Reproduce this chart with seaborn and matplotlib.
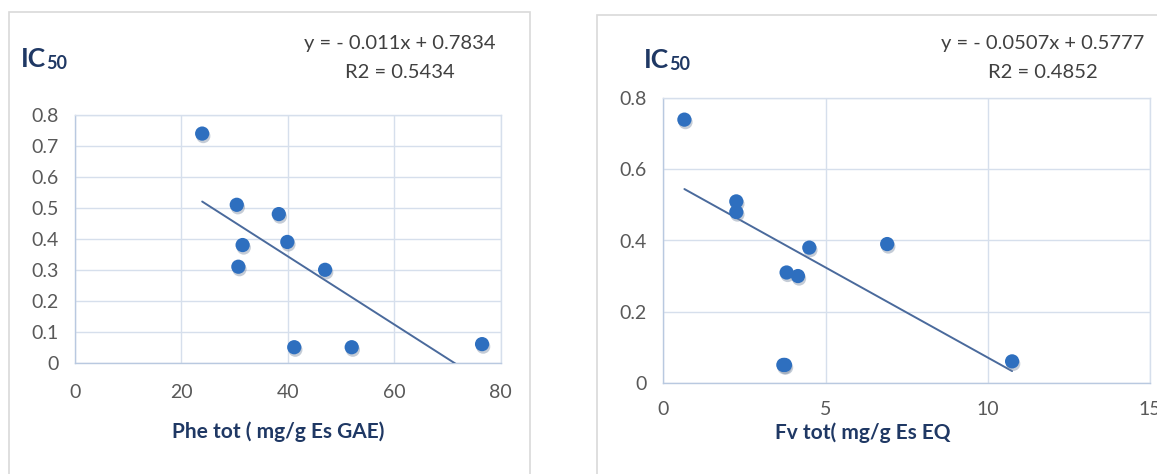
import numpy as np
import pandas as pd
import seaborn as sns
import matplotlib
matplotlib.use("Agg")
import matplotlib.pyplot as plt
import matplotlib.patheffects as pe
from matplotlib.patches import Rectangle

# ---------------- data ----------------
ic50 = [0.74, 0.51, 0.48, 0.38, 0.39, 0.31, 0.30, 0.05, 0.05, 0.06]
phe_tot = [23.9, 30.4, 38.3, 31.5, 39.9, 30.7, 47.0, 41.2, 52.0, 76.5]
fv_tot = [0.65, 2.25, 2.25, 4.5, 6.9, 3.8, 4.15, 3.7, 3.75, 10.75]

phe_slope, phe_intercept, phe_r2 = -0.011, 0.7834, 0.5434
fv_slope, fv_intercept, fv_r2 = -0.0507, 0.5777, 0.4852

phe_xticks = [0, 20, 40, 60, 80]
phe_yticks = [0, 0.1, 0.2, 0.3, 0.4, 0.5, 0.6, 0.7, 0.8]
fv_xticks = [0, 5, 10, 15]
fv_yticks = [0, 0.2, 0.4, 0.6, 0.8]

phe_xlabel = "Phe tot ( mg/g Es GAE)"
fv_xlabel = "Fv tot( mg/g Es EQ"

# ---------------- style ----------------
sns.set_theme(style="white")
plt.rcParams["font.family"] = ["Lato", "DejaVu Sans"]

W, H = 1157, 474
fig = plt.figure(figsize=(W / 100, H / 100), dpi=100)
fig.patch.set_facecolor("white")


def fx(px):
    return px / W


def fy(py):
    return 1 - py / H


NAVY = "#1f3864"
TICK = "#595959"
EQ = "#404040"
PT = "#2e6fbf"
LINE = "#4a6a9c"
GRID = "#d6dfec"
SPINE = "#b9c9e0"

# panel borders
for x0, y0, x1, y1 in [(9, 12, 530, 500), (597, 15, 1200, 500)]:
    fig.patches.append(Rectangle((fx(x0), fy(y1)), fx(x1) - fx(x0), fy(y0) - fy(y1),
                                 transform=fig.transFigure, fill=False,
                                 ec="#d9d9d9", lw=1.2))

ax1 = fig.add_axes([fx(75), fy(362.7), (500.7 - 75) / W, (362.7 - 115) / H])
ax2 = fig.add_axes([fx(663.3), fy(382.7), (1150 - 663.3) / W, (382.7 - 98.3) / H])


def fmt(v):
    return f"{v:g}"


def draw(ax, x, y, slope, intercept, xticks, yticks, xpad):
    df = pd.DataFrame({"x": x, "y": y})
    sns.scatterplot(data=df, x="x", y="y", ax=ax, s=105, color=PT,
                    edgecolor="none", zorder=4, legend=False)
    for coll in ax.collections:
        coll.set_path_effects([pe.SimplePatchShadow(offset=(0.8, -1.8),
                                                    shadow_rgbFace="#7f8fa6",
                                                    alpha=0.45),
                               pe.Normal()])
    xs = np.array([min(x), max(x)])
    fit = pd.DataFrame({"x": xs, "y": slope * xs + intercept})
    sns.lineplot(data=fit, x="x", y="y", ax=ax, color=LINE, lw=1.4, zorder=3)
    ax.set_xlim(xticks[0], xticks[-1])
    ax.set_ylim(yticks[0], yticks[-1])
    ax.set_xticks(xticks)
    ax.set_yticks(yticks)
    ax.set_xticklabels([fmt(v) for v in xticks])
    ax.set_yticklabels([fmt(v) for v in yticks])
    ax.set_xlabel("")
    ax.set_ylabel("")
    ax.grid(True, color=GRID, lw=1.0)
    ax.set_axisbelow(True)
    for name, sp in ax.spines.items():
        sp.set_visible(True)
        sp.set_linewidth(1.0)
        sp.set_color(SPINE if name in ("left", "bottom") else GRID)
    ax.tick_params(axis="both", length=0, labelsize=14, colors=TICK)
    ax.tick_params(axis="y", pad=12)
    ax.tick_params(axis="x", pad=xpad)
    ax.set_facecolor("white")


draw(ax1, phe_tot, ic50, phe_slope, phe_intercept, phe_xticks, phe_yticks, 15)
draw(ax2, fv_tot, ic50, fv_slope, fv_intercept, fv_xticks, fv_yticks, 13)

# x labels
fig.text(fx(278), fy(432), phe_xlabel, ha="center", va="center",
         fontsize=15, fontweight="bold", color=NAVY)
fig.text(fx(863), fy(433), fv_xlabel, ha="center", va="center",
         fontsize=15, fontweight="bold", color=NAVY)


# equations
def eq_text(slope, intercept):
    return f"y = - {abs(slope):g}x + {intercept:g}"


fig.text(fx(400), fy(44), eq_text(phe_slope, phe_intercept), ha="center",
         va="center", fontsize=14.5, color=EQ)
fig.text(fx(400), fy(72), f"R2 = {phe_r2:g}", ha="center", va="center",
         fontsize=14.5, color=EQ)
fig.text(fx(1043), fy(44), eq_text(fv_slope, fv_intercept), ha="center",
         va="center", fontsize=14.5, color=EQ)
fig.text(fx(1043), fy(72), f"R2 = {fv_r2:g}", ha="center", va="center",
         fontsize=14.5, color=EQ)

# IC50 titles
for ax, px, py in [(ax1, 21, 67), (ax2, 644, 68)]:
    t = fig.text(fx(px), fy(py), "IC", fontsize=19, fontweight="bold",
                 color=NAVY, va="baseline", ha="left")
    ax.annotate("50", xy=(1, 0), xycoords=t, xytext=(0.3, -1),
                textcoords="offset points", fontsize=13, fontweight="bold",
                color=NAVY, va="bottom", ha="left", annotation_clip=False)

fig.savefig("out.png", dpi=100, facecolor="white")
